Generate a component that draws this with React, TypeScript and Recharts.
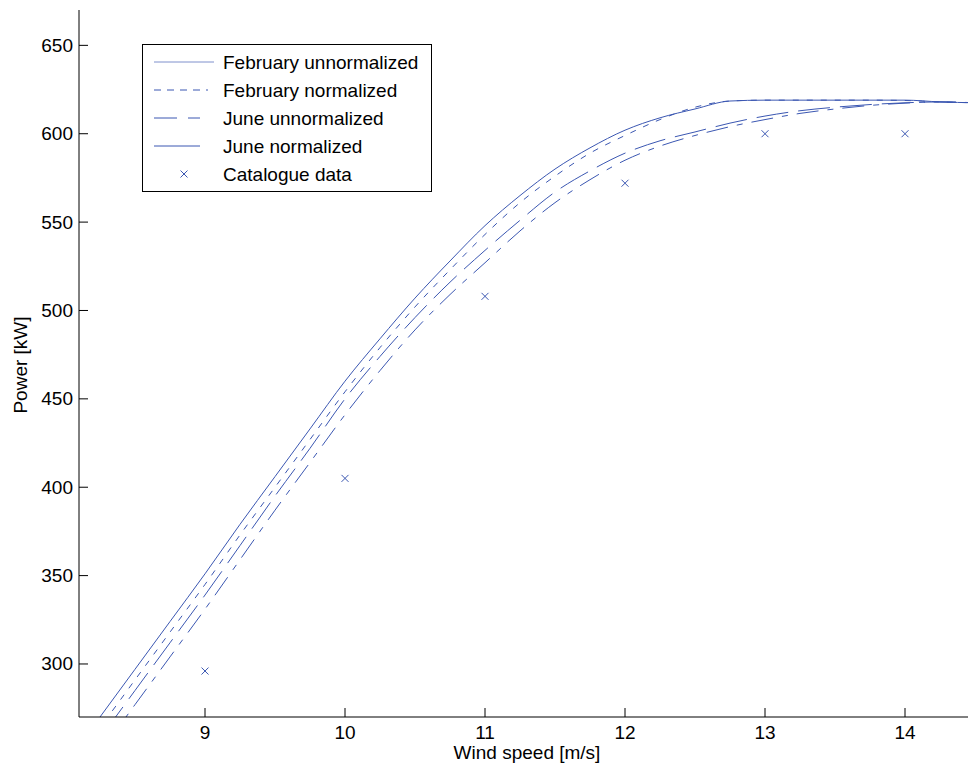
import { ComposedChart, Line, Scatter, XAxis, YAxis, Legend } from 'recharts';

const windSpeed = [
  8.1, 8.25, 8.5, 8.75, 9, 9.25, 9.5, 9.75, 10, 10.25, 10.5, 10.75, 11, 11.25,
  11.5, 11.75, 12, 12.25, 12.5, 12.75, 13, 13.25, 13.5, 13.75, 14, 14.25, 14.5,
];
const febUnnormalized = [
  254, 270, 297, 324, 351, 379, 406, 433, 460, 484, 507, 528, 548, 565, 580,
  592, 602, 609, 614, 618.5, 619, 619, 619, 619, 619, 618, 617.5,
];
const febNormalized = [
  248, 264, 291, 318, 345, 373, 400, 427, 454, 479, 502, 523, 543, 561, 576,
  589, 599, 608, 615, 618.5, 619, 619, 619, 619, 618.8, 618, 617.5,
];
const juneUnnormalized = [
  234, 250, 277, 304, 331, 359, 387, 414, 441, 466, 489, 509, 527, 545, 561,
  574, 585, 593, 599, 604, 608, 611.5, 614, 616, 617.3, 618, 617.5,
];
const juneNormalized = [
  242, 258, 285, 312, 339, 367, 395, 422, 450, 474, 496, 516, 534, 551, 567,
  579, 589, 596, 601, 606, 610, 613, 615, 616.5, 617.5, 618, 617.5,
];
const catalogueSpeed = [9, 10, 11, 12, 13, 14];
const cataloguePower = [296, 405, 508, 572, 600, 600];

const xTicks = [9, 10, 11, 12, 13, 14];
const yTicks = [300, 350, 400, 450, 500, 550, 600, 650];

const seriesNames = [
  'February unnormalized',
  'February normalized',
  'June unnormalized',
  'June normalized',
  'Catalogue data',
];

const rows = windSpeed.map((x, i) => ({
  x,
  febU: febUnnormalized[i],
  febN: febNormalized[i],
  juneU: juneUnnormalized[i],
  juneN: juneNormalized[i],
}));
const catalogue = catalogueSpeed.map((x, i) => ({ x, p: cataloguePower[i] }));

const BLUE = '#3b57b2';
const FONT = '"Liberation Sans", Arial, sans-serif';
const TICK = 9;

const BottomTick = ({ x, y, payload }: any) => (
  <g>
    <line x1={x} x2={x} y1={y} y2={y - TICK} stroke='#000' />
    <text x={x} y={y + 15} textAnchor='middle' dominantBaseline='central' fontSize={19} fontFamily={FONT} fill='#000'>
      {payload.value}
    </text>
  </g>
);

const LeftTick = ({ x, y, payload }: any) => (
  <g>
    <line x1={x} x2={x + TICK} y1={y} y2={y} stroke='#000' />
    <text x={x - 6} y={y} textAnchor='end' dominantBaseline='central' fontSize={19} fontFamily={FONT} fill='#000'>
      {payload.value}
    </text>
  </g>
);

const TopTick = ({ x, y }: any) => <line x1={x} x2={x} y1={y} y2={y + TICK} stroke='#000' />;
const RightTick = ({ x, y }: any) => <line x1={x} x2={x - TICK} y1={y} y2={y} stroke='#000' />;

const Cross = ({ cx, cy }: any) => (
  <g stroke={BLUE} strokeWidth={1}>
    <line x1={cx - 3.5} y1={cy - 3.5} x2={cx + 3.5} y2={cy + 3.5} />
    <line x1={cx - 3.5} y1={cy + 3.5} x2={cx + 3.5} y2={cy - 3.5} />
  </g>
);

// legend samples as the original figure draws them
const legendSamples: Record<string, { len: number; dash?: string; color?: string; cross?: boolean }> = {
  'February unnormalized': { len: 60, color: '#7f90cc' },
  'February normalized': { len: 54, dash: '7 6' },
  'June unnormalized': { len: 46, dash: '23 11 12' },
  'June normalized': { len: 46 },
  'Catalogue data': { len: 0, cross: true },
};

const renderLegend = () => (
  <div style={{ width: 290, height: 148, border: '1px solid #000', background: '#fff', boxSizing: 'border-box' }}>
    <svg width={288} height={146}>
      {seriesNames.map((name, i) => {
        const s = legendSamples[name];
        const cy = 17 + i * 28;
        return (
          <g key={name}>
            {s.cross ? (
              <Cross cx={41} cy={cy} />
            ) : (
              <line x1={11} x2={11 + s.len} y1={cy} y2={cy} stroke={s.color || BLUE} strokeDasharray={s.dash} />
            )}
            <text x={80} y={cy} dominantBaseline='central' fontSize={19} fontFamily={FONT} fill='#000'>
              {name}
            </text>
          </g>
        );
      })}
    </svg>
  </div>
);

export default function App() {
  return (
    <div style={{ position: 'fixed', left: 0, top: 0, width: 968, height: 771, overflow: 'hidden', background: '#fff' }}>
      <ComposedChart width={990} height={771} data={rows} margin={{ top: 10, right: 15, bottom: 0, left: 0 }}>
        <XAxis
          dataKey='x'
          type='number'
          domain={[8.1, 14.5]}
          ticks={xTicks}
          interval={0}
          allowDataOverflow
          height={54}
          tickSize={0}
          tickMargin={0}
          tickLine={false}
          axisLine={{ stroke: '#000' }}
          tick={<BottomTick />}
          label={{ value: 'Wind speed [m/s]', position: 'insideBottom', offset: 12, fontSize: 19, fontFamily: FONT, fill: '#000' }}
        />
        <XAxis
          xAxisId='top'
          orientation='top'
          type='number'
          domain={[8.1, 14.5]}
          ticks={xTicks}
          interval={0}
          allowDataOverflow
          height={0}
          tickSize={0}
          tickMargin={0}
          tickLine={false}
          axisLine={{ stroke: '#000' }}
          tick={<TopTick />}
        />
        <YAxis
          type='number'
          domain={[270, 670]}
          ticks={yTicks}
          interval={0}
          allowDataOverflow
          width={79}
          tickSize={0}
          tickMargin={0}
          tickLine={false}
          axisLine={{ stroke: '#000' }}
          tick={<LeftTick />}
          label={{
            content: () => (
              <text x={20} y={365} transform='rotate(-90 20 365)' textAnchor='middle' dominantBaseline='central' fontSize={19} fontFamily={FONT} fill='#000'>
                Power [kW]
              </text>
            ),
          }}
        />
        <YAxis
          yAxisId='right'
          orientation='right'
          type='number'
          domain={[270, 670]}
          ticks={yTicks}
          interval={0}
          allowDataOverflow
          width={0}
          tickSize={0}
          tickMargin={0}
          tickLine={false}
          axisLine={{ stroke: '#000' }}
          tick={<RightTick />}
        />
        <Legend
          layout='vertical'
          align='center'
          verticalAlign='middle'
          wrapperStyle={{ left: 142, top: 44, width: 290, height: 148 }}
          content={renderLegend}
        />
        <Line name={seriesNames[0]} dataKey='febU' type='monotone' stroke={BLUE} strokeWidth={1} dot={false} activeDot={false} isAnimationActive={false} />
        <Line name={seriesNames[1]} dataKey='febN' type='monotone' stroke={BLUE} strokeWidth={1} strokeDasharray='6 8' dot={false} activeDot={false} isAnimationActive={false} />
        <Line name={seriesNames[2]} dataKey='juneU' type='monotone' stroke={BLUE} strokeWidth={1} strokeDasharray='22 9 6 9' dot={false} activeDot={false} isAnimationActive={false} />
        <Line name={seriesNames[3]} dataKey='juneN' type='monotone' stroke={BLUE} strokeWidth={1} strokeDasharray='32 10' dot={false} activeDot={false} isAnimationActive={false} />
        <Scatter name={seriesNames[4]} data={catalogue} dataKey='p' shape={<Cross />} isAnimationActive={false} />
      </ComposedChart>
    </div>
  );
}
